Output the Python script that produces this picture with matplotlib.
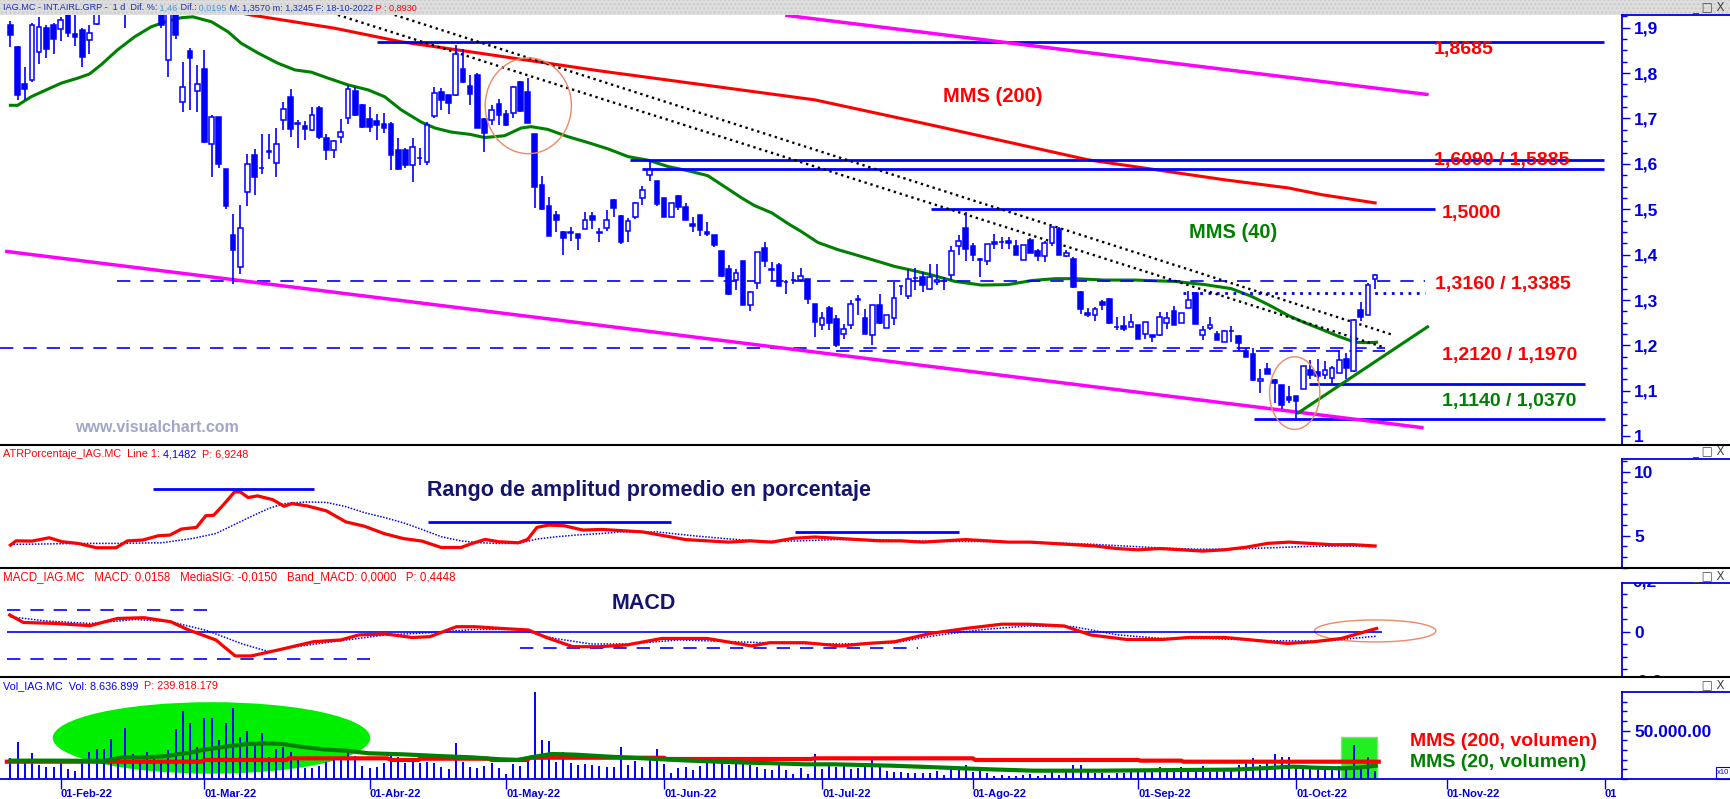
import numpy as np
import pandas as pd
import matplotlib
matplotlib.use('Agg')
import matplotlib.pyplot as plt
from matplotlib.patches import Rectangle, Ellipse
from matplotlib.lines import Line2D
from matplotlib.ticker import MultipleLocator, FixedLocator, FuncFormatter
from matplotlib.transforms import Bbox

plt.rcParams['font.family'] = ['Liberation Sans', 'DejaVu Sans']

# ---------------- datos ----------------
start_day = '2022-01-21'
holidays = ['2022-04-15', '2022-04-18']

opens = [1.906,1.857,1.776,1.784,1.847,1.899,1.907,1.897,1.935,1.886,
 1.896,1.872,1.908,1.940,1.965,1.975,1.955,1.935,1.970,1.960,
 1.945,1.950,1.828,1.950,1.737,1.849,1.761,1.809,1.644,1.703,
 1.589,1.444,1.373,1.538,1.620,1.590,1.626,1.602,1.696,1.747,
 1.688,1.684,1.674,1.723,1.657,1.631,1.659,1.701,1.761,1.729,
 1.699,1.695,1.688,1.688,1.631,1.631,1.597,1.613,1.604,1.706,
 1.758,1.751,1.751,1.809,1.772,1.796,1.699,1.697,1.731,1.710,
 1.712,1.781,1.759,1.665,1.554,1.508,1.488,1.449,1.448,1.446,
 1.457,1.486,1.448,1.459,1.520,1.486,1.453,1.484,1.525,1.575,
 1.563,1.525,1.483,1.530,1.506,1.468,1.488,1.450,1.444,1.409,
 1.369,1.344,1.387,1.288,1.338,1.415,1.369,1.378,1.339,1.345,
 1.345,1.347,1.292,1.245,1.283,1.259,1.226,1.245,1.303,1.261,
 1.223,1.289,1.239,1.261,1.330,1.308,1.349,1.351,1.325,1.339,
 1.341,1.356,1.420,1.459,1.420,1.390,1.387,1.428,1.427,1.429,
 1.420,1.388,1.433,1.409,1.396,1.426,1.457,1.398,1.390,1.317,
 1.272,1.266,1.295,1.303,1.240,1.242,1.241,1.244,1.226,1.222,
 1.222,1.250,1.275,1.250,1.283,1.316,1.222,1.239,1.226,1.208,
 1.231,1.220,1.188,1.182,1.122,1.149,1.123,1.112,1.087,1.089,
 1.103,1.146,1.142,1.134,1.129,1.140,1.171,1.144,1.279,1.268,
 1.347]
highs = [1.915,1.860,1.814,1.910,1.924,1.907,1.910,1.924,1.950,1.930,
 1.900,1.906,1.950,1.975,1.990,1.985,1.965,1.980,1.990,1.970,
 1.965,1.960,1.950,1.960,1.825,1.855,1.818,1.851,1.708,1.703,
 1.589,1.490,1.510,1.622,1.633,1.666,1.666,1.679,1.736,1.765,
 1.697,1.695,1.726,1.728,1.666,1.653,1.699,1.774,1.770,1.732,
 1.726,1.710,1.711,1.693,1.658,1.636,1.658,1.636,1.693,1.770,
 1.768,1.751,1.863,1.853,1.796,1.800,1.700,1.730,1.743,1.719,
 1.772,1.783,1.790,1.665,1.574,1.527,1.497,1.451,1.462,1.446,
 1.495,1.495,1.459,1.499,1.523,1.488,1.481,1.517,1.552,1.609,
 1.563,1.525,1.514,1.532,1.514,1.483,1.488,1.472,1.444,1.409,
 1.378,1.369,1.387,1.321,1.405,1.428,1.384,1.382,1.345,1.361,
 1.371,1.347,1.292,1.274,1.286,1.266,1.248,1.299,1.310,1.281,
 1.289,1.314,1.267,1.339,1.332,1.369,1.371,1.362,1.380,1.380,
 1.351,1.418,1.444,1.495,1.425,1.392,1.423,1.445,1.439,1.439,
 1.432,1.421,1.437,1.413,1.429,1.462,1.460,1.411,1.394,1.321,
 1.283,1.284,1.301,1.305,1.263,1.264,1.270,1.244,1.252,1.224,
 1.273,1.274,1.286,1.272,1.319,1.317,1.242,1.263,1.231,1.234,
 1.242,1.224,1.195,1.195,1.147,1.162,1.125,1.112,1.110,1.089,
 1.154,1.168,1.169,1.165,1.155,1.191,1.184,1.259,1.295,1.338,
 1.357]
lows = [1.858,1.740,1.740,1.780,1.820,1.833,1.842,1.871,1.880,1.860,
 1.813,1.842,1.905,1.935,1.945,1.945,1.900,1.930,1.950,1.935,
 1.935,1.900,1.791,1.875,1.715,1.718,1.715,1.647,1.572,1.591,
 1.500,1.335,1.358,1.507,1.532,1.578,1.611,1.572,1.675,1.660,
 1.636,1.653,1.672,1.655,1.608,1.614,1.647,1.688,1.706,1.680,
 1.671,1.652,1.668,1.586,1.587,1.592,1.561,1.598,1.597,1.702,
 1.719,1.710,1.750,1.778,1.730,1.680,1.627,1.686,1.686,1.684,
 1.700,1.714,1.690,1.503,1.498,1.440,1.449,1.399,1.431,1.410,
 1.457,1.457,1.427,1.451,1.484,1.424,1.427,1.479,1.510,1.563,
 1.508,1.483,1.483,1.499,1.476,1.449,1.440,1.440,1.417,1.351,
 1.312,1.322,1.289,1.275,1.325,1.373,1.341,1.331,1.314,1.336,
 1.340,1.292,1.218,1.234,1.234,1.197,1.215,1.237,1.267,1.226,
 1.201,1.248,1.239,1.245,1.310,1.303,1.322,1.317,1.323,1.333,
 1.323,1.345,1.400,1.387,1.387,1.350,1.378,1.413,1.413,1.413,
 1.399,1.388,1.404,1.385,1.383,1.420,1.400,1.395,1.327,1.270,
 1.262,1.253,1.278,1.248,1.234,1.231,1.241,1.215,1.215,1.207,
 1.220,1.237,1.245,1.250,1.283,1.248,1.212,1.234,1.212,1.207,
 1.208,1.188,1.175,1.122,1.096,1.138,1.074,1.061,1.074,1.037,
 1.103,1.127,1.122,1.125,1.116,1.140,1.127,1.141,1.253,1.268,
 1.3245]
closes = [1.884,1.751,1.766,1.906,1.901,1.853,1.875,1.918,1.888,1.880,
 1.836,1.889,1.940,1.965,1.975,1.955,1.935,1.970,1.960,1.945,
 1.955,1.906,1.940,1.883,1.769,1.833,1.775,1.649,1.703,1.600,
 1.507,1.410,1.459,1.600,1.572,1.591,1.628,1.644,1.721,1.677,
 1.689,1.677,1.708,1.660,1.630,1.651,1.670,1.765,1.707,1.682,
 1.682,1.685,1.680,1.619,1.589,1.597,1.637,1.614,1.686,1.756,
 1.740,1.734,1.842,1.781,1.753,1.680,1.669,1.719,1.708,1.686,
 1.770,1.717,1.691,1.548,1.500,1.442,1.476,1.437,1.449,1.437,
 1.477,1.476,1.449,1.477,1.503,1.428,1.475,1.514,1.543,1.587,
 1.512,1.484,1.514,1.504,1.476,1.464,1.454,1.446,1.422,1.353,
 1.314,1.360,1.289,1.317,1.405,1.386,1.366,1.331,1.339,1.345,
 1.352,1.303,1.251,1.261,1.250,1.201,1.237,1.292,1.300,1.226,
 1.289,1.250,1.267,1.305,1.330,1.347,1.349,1.333,1.351,1.344,
 1.341,1.409,1.429,1.413,1.399,1.388,1.423,1.423,1.427,1.426,
 1.399,1.421,1.404,1.396,1.426,1.460,1.400,1.404,1.328,1.281,
 1.266,1.281,1.289,1.250,1.241,1.237,1.252,1.215,1.252,1.218,
 1.262,1.261,1.246,1.272,1.300,1.248,1.234,1.245,1.213,1.231,
 1.232,1.206,1.175,1.124,1.127,1.138,1.118,1.069,1.080,1.078,
 1.154,1.134,1.133,1.145,1.151,1.167,1.151,1.256,1.262,1.333,
 1.3555]

# volumen diario (millones de acciones)
volumes = [22.0,38.6,18.6,27.0,14.5,12.8,12.0,18.0,10.7,8.6,
 20.7,27.6,31.0,30.7,41.7,23.1,53.1,25.9,17.3,28.3,
 20.7,18.0,30.0,51.8,70.4,57.6,33.5,62.8,62.8,40.4,
 57.6,73.0,43.8,49.7,35.2,48.0,23.1,30.7,33.5,28.3,
 19.7,11.0,11.0,13.5,18.0,19.7,22.0,26.6,23.8,13.5,
 11.4,12.0,16.2,28.3,23.1,17.0,19.7,17.0,18.0,16.2,
 12.8,10.0,37.6,18.0,12.0,11.7,13.5,17.0,11.0,5.2,
 15.5,13.5,19.7,90.0,40.4,39.3,18.0,28.3,16.2,14.5,
 15.2,14.5,13.5,12.8,12.8,33.5,14.5,18.6,12.0,19.7,
 31.0,15.5,5.9,11.0,12.8,9.3,13.5,17.0,20.4,18.0,
 14.5,17.0,18.0,14.5,12.0,10.0,9.3,14.5,9.3,4.8,
 11.0,4.8,25.9,10.0,13.5,12.0,13.5,10.0,11.0,12.0,
 19.7,13.5,8.6,7.6,7.6,6.6,6.6,6.6,5.9,8.6,
 4.1,11.0,11.0,14.5,7.6,8.6,5.9,3.5,4.1,3.5,
 3.1,4.1,5.2,3.1,4.1,7.6,4.1,7.6,14.5,14.5,
 7.6,5.9,6.6,4.1,5.9,6.6,7.6,9.3,7.6,10.0,
 12.0,9.3,7.6,12.0,11.0,7.6,13.5,7.6,8.6,9.3,
 11.0,14.5,19.7,21.4,14.5,18.0,25.9,23.1,23.1,13.5,
 12.0,12.0,10.0,11.0,11.0,13.5,12.0,35.2,12.0,23.1,
 8.6]

# medias móviles (índice de sesión, valor)
mms40 = [(0,1.729),(1,1.729),(2.9,1.748),(4.7,1.761),(7.1,1.778),(9.4,1.789),(11,1.798),
 (12.6,1.818),(14.9,1.851),(17.3,1.88),(19.6,1.902),(21.9,1.915),(23.8,1.922),(25.4,1.924),
 (28,1.913),(30.3,1.891),(32.1,1.866),(34.5,1.844),(37.2,1.822),(39.6,1.807),(41.9,1.802),
 (44.2,1.789),(47,1.774),(49.8,1.763),(52.1,1.748),(54.4,1.719),(57.2,1.692),(59.1,1.679),
 (61.4,1.67),(64,1.665),(66,1.658),(68.8,1.662),(71.1,1.679),(72.5,1.682),(74.8,1.676),
 (77.6,1.66),(80.4,1.647),(83.2,1.633),(86,1.616),(88.8,1.608),(91.6,1.594),(94.3,1.585),
 (97.1,1.574),(99.4,1.55),(101.8,1.525),(103.6,1.508),(106,1.492),(108.3,1.468),(110.1,1.451),
 (112.4,1.427),(115.2,1.411),(117.6,1.4),(120.8,1.385),(123.1,1.374),(125.4,1.366),(128.1,1.356),
 (131.5,1.341),(135.2,1.333),(138.9,1.334),(142.2,1.343),(145.4,1.347),(148.2,1.347),
 (152.4,1.344),(156.6,1.344),(162.1,1.341),(166.3,1.334),(170,1.325),(172.8,1.308),
 (175.6,1.286),(177.9,1.266),(180.2,1.25),(182.6,1.235),(184.9,1.22),(187.2,1.207),
 (189.1,1.206),(190.2,1.207)]
mms200 = [(31,1.936),(33.5,1.928),(45.1,1.899),(54.4,1.869),(64,1.847),(82,1.805),(112,1.741),
 (128.1,1.686),(150,1.609),(169,1.565),(177.9,1.547),(182.6,1.532),(190,1.514)]

# niveles horizontales: (nivel, desde, hasta)
solid_levels = [(1.8685, 51, 221.8), (1.6090, 86.3, 221.8), (1.5885, 88, 221.8),
                (1.5000, 128.2, 198.4), (1.1140, 180.8, 219.2), (1.0370, 173.1, 222)]
dashed_levels = [(1.342, 14.9, 197), (1.195, -1.5, 191.4), (1.188, 115, 191.4)]
dotted_level = (1.3160, 163.3, 196.9)
channel_upper = [(108.1, 1.927), (197.2, 1.753)]
channel_lower = [(-0.5, 1.407), (196.5, 1.019)]
trend_black_1 = [(45.6, 1.928), (191.4, 1.195)]
trend_black_2 = [(53.5, 1.928), (192.3, 1.224)]
trend_green = [(179.3, 1.0515), (197.3, 1.241)]

level_labels = [('1,8685', 198.2, 1.852, 'red'), ('1,6090 / 1,5885', 198.2, 1.6067, 'red'),
                ('1,5000', 199.3, 1.490, 'red'), ('1,3160 / 1,3385', 198.3, 1.334, 'red'),
                ('1,2120 / 1,1970', 199.3, 1.178, 'red'), ('1,1140 / 1,0370', 199.3, 1.077, 'green')]

# ATR % y su media
atr = [(0,4.27),(0.8,4.6),(3,4.58),(5.4,4.84),(7.2,4.53),(9.4,4.4),(12,4.06),(14.7,4.06),
 (16.3,4.6),(18.4,4.66),(20.6,5.0),(22.2,5.05),(23.8,5.52),(25.9,5.65),(27.2,6.56),(28.3,6.6),
 (29.6,7.38),(31.2,8.42),(32,8.42),(33.1,7.98),(34.4,8.11),(36.5,7.82),(38.1,7.3),(39.2,7.51),
 (41.3,7.33),(44,6.94),(46.7,6.08),(49.3,5.74),(52,5.17),(54.7,4.78),(57.3,4.58),(60,4.08),
 (62.7,4.08),(64.3,4.4),(66.1,4.71),(68,4.53),(70.7,4.45),(72,4.71),(73.3,5.65),(74.9,5.83),
 (77.1,5.78),(79.7,5.44),(82.3,5.49),(85,5.4),(88,5.3),(91,5.0),(94,4.7),(97,4.6),(100,4.5),
 (103,4.6),(106,4.5),(109,4.8),(112,4.9),(115,4.8),(118,4.7),(121,4.6),(124,4.6),(127,4.5),
 (130,4.6),(133,4.7),(136,4.6),(139,4.5),(142,4.5),(145,4.4),(148,4.3),(151,4.2),(154,4.0),
 (157,3.9),(160,4.0),(163,3.9),(166,3.8),(169,3.9),(172,4.1),(175,4.4),(178,4.5),(181,4.4),
 (184,4.3),(187,4.3),(190,4.2)]
atr_signal = [(0,4.32),(4,4.35),(9.4,4.4),(14.7,4.4),(21.1,4.45),(25.4,4.79),(28.6,5.17),
 (30.7,5.74),(33.4,6.47),(36,7.14),(38.1,7.51),(41.3,7.64),(44,7.6),(46.7,7.27),(49.3,6.8),
 (52,6.43),(54.7,6.01),(57.3,5.49),(60,4.92),(62.7,4.6),(65.3,4.45),(68,4.4),(70.7,4.4),
 (73.3,4.74),(76,4.92),(78.7,5.05),(82.3,5.17),(85,5.3),(90,5.3),(95,5.0),(100,4.75),
 (105,4.55),(110,4.6),(115,4.7),(120,4.7),(125,4.6),(130,4.55),(135,4.55),(140,4.5),
 (145,4.45),(150,4.35),(155,4.2),(160,4.05),(165,3.95),(170,3.95),(175,4.05),(180,4.15),
 (185,4.2),(190,4.15)]
atr_levels = [(8.66, 19.9, 42.2), (6.05, 58.2, 92), (5.3, 109.3, 132.1)]

# MACD y señal
macd = [(-0.1,0.067),(1.8,0.037),(6.2,0.033),(11.1,0.024),(14.9,0.053),(18.6,0.056),
 (22.3,0.04),(24.8,0.007),(28.6,-0.033),(31.3,-0.097),(33.5,-0.097),(37.3,-0.073),
 (42.2,-0.04),(46,-0.033),(48.5,-0.013),(52.2,-0.009),(55.9,-0.023),(58.4,-0.02),
 (62.1,0.02),(64.6,0.02),(68.4,0.013),(72.1,0.007),(74.6,-0.023),(78.3,-0.06),(82,-0.06),
 (85.8,-0.053),(90.7,-0.027),(97,-0.027),(103.2,-0.057),(105.7,-0.044),(110.6,-0.044),
 (115.6,-0.057),(119.3,-0.047),(123.1,-0.04),(128.1,-0.007),(133,0.013),(138,0.03),
 (141.7,0.03),(146.7,0.023),(150.4,-0.013),(155.4,-0.031),(160.4,-0.031),(164.1,-0.023),
 (169.1,-0.023),(172.8,-0.033),(177.8,-0.047),(181.5,-0.04),(185.3,-0.027),(190.2,0.013)]
macd_signal = [(-0.1,0.06),(4.9,0.043),(11.1,0.033),(17.4,0.049),(22.3,0.04),(27.3,0.005),
 (32.3,-0.049),(36,-0.08),(39.7,-0.06),(46,-0.036),(52.2,-0.013),(58.4,-0.004),(64.6,0.009),
 (70.8,0.009),(75.8,-0.027),(80.8,-0.049),(85.8,-0.049),(93.2,-0.033),(100.7,-0.04),
 (108.2,-0.047),(115.6,-0.049),(123.1,-0.044),(129.3,-0.013),(135.5,0.009),(141.7,0.023),
 (148,0.02),(154.2,-0.013),(160.4,-0.027),(166.6,-0.027),(175.3,-0.036),(182.8,-0.038),
 (190.2,-0.018)]
macd_levels = [(0.087, -0.5, 28), (-0.11, -0.5, 50), (-0.066, 71, 126.3)]

# medias del volumen (millones)
vol_mms200 = [(-0.5,17.9),(26.5,17.9),(27,19.7),(38.5,19.7),(38.7,21.4),(52.5,21.4),(53,19.7),
 (56.8,19.7),(57,21.0),(66.5,21.0),(67,19.7),(72,19.7),(72.3,22.0),(91,22.0),(91.3,20.7),
 (111.5,20.7),(112,21.4),(134,21.4),(134.3,19.7),(157,19.7),(157.3,19.0),(163,19.0),
 (163.3,17.9),(190.5,17.9)]
vol_mms20 = [(0,19.0),(6.7,19.0),(13.1,18.7),(15.5,22.4),(18.7,22.4),(21.9,23.8),(23.5,25.9),
 (25.1,27.3),(26.7,30.0),(28.3,31.7),(30.7,34.2),(33.1,36.2),(35.5,36.9),(37.9,36.2),
 (40.3,33.5),(43.5,30.7),(46.7,29.3),(49.9,26.6),(54.7,25.5),(59.5,23.8),(64.2,22.4),
 (68.2,20.4),(70.6,19.7),(73,23.1),(75.4,25.9),(78.6,25.2),(83.4,23.1),(86.6,22.0),
 (90.6,20.4),(94.6,19.0),(98.6,17.9),(102.6,16.9),(106.6,16.2),(110.6,15.2),(114.6,15.2),
 (118.6,14.5),(122.6,13.8),(128.8,12.1),(132.6,11.0),(136.4,10.0),(142.4,8.6),(151.5,8.6),
 (162.8,9.3),(170.3,9.7),(174.1,11.0),(178.6,12.8),(181.6,11.7),(185.4,11.0),(187.7,11.7),
 (190.1,13.8)]

meses = {1: 'Ene', 2: 'Feb', 3: 'Mar', 4: 'Abr', 5: 'May', 6: 'Jun', 7: 'Jul',
         8: 'Ago', 9: 'Sep', 10: 'Oct', 11: 'Nov', 12: 'Dic'}

# ---------------- figura ----------------
W, H = 1730, 799
AX_R = 1621.5
BLUE = '#0000ff'
AXB = '#0000dd'
RED = '#ff0000'
GREEN = '#008000'
MAG = '#ff00ff'
NAVY = '#14146e'
SALMON = '#ee8866'

fig = plt.figure(figsize=(W / 100, H / 100), dpi=100)
fig.patch.set_facecolor('white')


def add_panel(top, bot, sharex=None):
    return fig.add_axes([0, 1 - bot / H, AX_R / W, (bot - top) / H], sharex=sharex)


ax = add_panel(15, 444.5)
ax_a = add_panel(459, 568, ax)
ax_m = add_panel(583.3, 677, ax)
ax_v = add_panel(692.3, 779, ax)

days = pd.bdate_range(start_day, '2022-12-30')
days = days[~days.isin(pd.to_datetime(holidays))]
n = len(closes)
x = np.arange(n)


def xy(pairs):
    a = np.array(pairs)
    return a[:, 0], a[:, 1]


for a in (ax, ax_a, ax_m, ax_v):
    a.set_facecolor('white')
    for s in ('left', 'top', 'bottom'):
        a.spines[s].set_visible(False)
    a.spines['right'].set_color(AXB)
    a.spines['right'].set_linewidth(1.3)
    a.yaxis.tick_right()
    a.tick_params(axis='y', which='major', direction='out', length=6, width=1, color=AXB,
                  labelcolor=AXB, labelsize=12.5, pad=3)
    a.tick_params(axis='y', which='minor', direction='out', length=3.5, width=1, color=AXB)
    a.tick_params(axis='x', which='both', bottom=False, labelbottom=False)
    a.set_xlim(-1.45, 224.3)

# ---- panel principal ----
ax.set_ylim(0.9817, 1.928)
ax.yaxis.set_major_locator(MultipleLocator(0.1))
ax.yaxis.set_minor_locator(MultipleLocator(0.025))
ax.yaxis.set_major_formatter(FuncFormatter(
    lambda v, p: '1' if abs(v - 1) < 1e-6 else f'{v:.1f}'.replace('.', ',')))

mx, my = xy(mms200)
ax.plot(mx, my, color=RED, lw=2.2, zorder=2)
mx, my = xy(mms40)
ax.plot(mx, my, color=GREEN, lw=2.2, zorder=2)

for (lv, a0, a1) in solid_levels:
    ax.hlines(lv, a0, a1, color=BLUE, lw=2, zorder=3)
for (lv, a0, a1) in dashed_levels:
    ax.hlines(lv, a0, a1, color=BLUE, lw=1.2, linestyles=(0, (8, 6)), zorder=3)
ax.hlines(dotted_level[0], dotted_level[1], dotted_level[2], color=BLUE, lw=2,
          linestyles=(0, (1, 2)), zorder=3)

for seg, col, lw, ls in [(channel_upper, MAG, 2.5, '-'), (channel_lower, MAG, 2.5, '-'),
                         (trend_black_1, 'black', 1.7, (0, (1, 1.6))),
                         (trend_black_2, 'black', 1.7, (0, (1, 1.6))),
                         (trend_green, GREEN, 2.2, '-')]:
    sx, sy = xy(seg)
    ax.plot(sx, sy, color=col, lw=lw, linestyle=ls, zorder=4)

o = np.array(opens); c = np.array(closes); hi = np.array(highs); lo = np.array(lows)
up = c >= o
ax.vlines(x, lo, hi, color=BLUE, lw=1.2, zorder=5)
ax.bar(x, np.abs(c - o), bottom=np.minimum(o, c), width=0.65,
       color=np.where(up, 'white', BLUE), edgecolor=BLUE, linewidth=1.1, zorder=6)

ax.add_patch(Ellipse((72.1, 1.728), 12, 0.211, fill=False, ec=SALMON, lw=1, zorder=7))
ax.add_patch(Ellipse((178.8, 1.095), 7, 0.16, fill=False, ec=SALMON, lw=1, zorder=7))

for txt, lx, ly, col in level_labels:
    ax.text(lx, ly, txt, color=RED if col == 'red' else GREEN, fontsize=14,
            fontweight='bold', va='center', ha='left', zorder=8)
ax.text(129.8, 1.7476, 'MMS (200)', color=RED, fontsize=14.5, fontweight='bold',
        va='center', ha='left')
ax.text(164.1, 1.448, 'MMS (40)', color=GREEN, fontsize=14.5, fontweight='bold',
        va='center', ha='left')
ax.text(9.0, 1.019, 'www.visualchart.com', color='#a0a6c8', fontsize=11.5,
        fontweight='bold', va='center', ha='left')

# ---- ATR ----
ax_a.set_ylim(2.48, 10.99)
ax_a.yaxis.set_major_locator(FixedLocator([5, 10]))
ax_a.yaxis.set_minor_locator(MultipleLocator(5 / 6))
ax_a.yaxis.set_major_formatter(FuncFormatter(lambda v, p: f'{v:g}'))
sx, sy = xy(atr_signal)
ax_a.plot(sx, sy, color=BLUE, lw=1.1, linestyle=(0, (1, 1)))
sx, sy = xy(atr)
ax_a.plot(sx, sy, color=RED, lw=2.3)
for (lv, a0, a1) in atr_levels:
    ax_a.hlines(lv, a0, a1, color=BLUE, lw=2)
ax_a.text(58.0, 8.5, 'Rango de amplitud promedio en porcentaje', color=NAVY,
          fontsize=15.5, fontweight='bold', va='center', ha='left')

# ---- MACD ----
ax_m.set_ylim(-0.1812, 0.1936)
ax_m.yaxis.set_major_locator(FixedLocator([0]))
ax_m.yaxis.set_minor_locator(MultipleLocator(0.05))
ax_m.yaxis.set_major_formatter(FuncFormatter(lambda v, p: '0'))
ax_m.hlines(0, -0.5, 191, color=BLUE, lw=1.2)
for (lv, a0, a1) in macd_levels:
    ax_m.hlines(lv, a0, a1, color=BLUE, lw=1.2, linestyles=(0, (8, 6)))
sx, sy = xy(macd_signal)
ax_m.plot(sx, sy, color=BLUE, lw=1.1, linestyle=(0, (1, 1)))
sx, sy = xy(macd)
ax_m.plot(sx, sy, color=RED, lw=2.3)
ax_m.add_patch(Ellipse((190, 0.003), 16.9, 0.088, fill=False, ec=SALMON, lw=1))
ax_m.text(83.7, 0.113, 'MACD', color=NAVY, fontsize=15.5, fontweight='bold',
          va='center', ha='left')

# ---- Volumen ----
ax_v.set_ylim(0, 89.7)
ax_v.yaxis.set_major_locator(FixedLocator([50]))
ax_v.yaxis.set_minor_locator(MultipleLocator(10))
ax_v.yaxis.set_major_formatter(FuncFormatter(
    lambda v, p: f'{int(round(v * 1000)):,}'.replace(',', '.') + '.00'))
ax_v.add_patch(Ellipse((28, 42.5), 44.2, 74, fc='#00ee00', ec='none', zorder=1,
                       clip_on=False))
ax_v.add_patch(Rectangle((185.3, 0), 4.9, 43.15, fc='#22ee22', ec='#88dd88', lw=1, zorder=1))
ax_v.vlines(x, 0, volumes, color=BLUE, lw=1.4, zorder=2)
sx, sy = xy(vol_mms200)
ax_v.plot(sx, sy, color=RED, lw=3, zorder=3)
sx, sy = xy(vol_mms20)
ax_v.plot(sx, sy, color=GREEN, lw=3, zorder=3)
ax_v.text(194.8, 38.9, 'MMS (200, volumen)', color=RED, fontsize=14, fontweight='bold',
          va='center', ha='left')
ax_v.text(194.8, 17.2, 'MMS (20, volumen)', color=GREEN, fontsize=14, fontweight='bold',
          va='center', ha='left')

# eje de fechas
tick_pos, tick_lab = [], []
for m in range(2, 13):
    first = days[days.month == m][0]
    tick_pos.append(days.get_loc(first))
    tick_lab.append(f'01-{meses[m]}-22')
ax_v.spines['bottom'].set_visible(True)
ax_v.spines['bottom'].set_color(AXB)
ax_v.spines['bottom'].set_linewidth(1.3)
ax_v.tick_params(axis='x', which='major', bottom=True, labelbottom=True, direction='out',
                 length=7, width=1, color=AXB, labelcolor=AXB, labelsize=8, pad=0)
ax_v.set_xticks(tick_pos)
ax_v.set_xticklabels(tick_lab, fontweight='bold', ha='left')
clip_right = Bbox.from_extents(0, 0, AX_R - 6, H)
for lbl in ax_v.get_xticklabels():
    lbl.set_clip_box(clip_right)
    lbl.set_clip_on(True)

for a in (ax, ax_a, ax_m, ax_v):
    for lbl in a.get_yticklabels():
        lbl.set_fontweight('bold')

# etiquetas de MACD cortadas por el borde del panel
band = Bbox.from_extents(AX_R, H - 677, W, H - 583.3)
for val, txt in [(0.2, '0,2'), (-0.2, '-0,2')]:
    t = ax_m.text(1.007, val, txt, transform=ax_m.get_yaxis_transform(), color=AXB,
                  fontsize=12.5, fontweight='bold', va='center', ha='left')
    t.set_clip_box(band)
    t.set_clip_on(True)

# ---------------- marco / cabeceras ----------------
fig.add_artist(Rectangle((0, 1 - 15 / H), 1, 15 / H, transform=fig.transFigure,
                         fc='#dedede', ec='#cbcbcb', lw=0, hatch='....', zorder=0))
for yp in (444.5, 568, 677):
    fig.add_artist(Line2D([0, 1], [1 - yp / H] * 2, color='black', lw=1.5))
for yp in (15, 459, 583.3, 692.3, 779):
    fig.add_artist(Line2D([AX_R / W, 1], [1 - yp / H] * 2, color=AXB, lw=1.3))
for yp in (7, 451, 576, 685):
    fig.text(1692 / W, 1 - yp / H, '_ □ X', color='#444444', fontsize=8.5,
             va='center', ha='left', family=['DejaVu Sans'])
fig.add_artist(Rectangle((1716 / W, 1 - 779 / H), 14 / W, 12 / H, transform=fig.transFigure,
                         fc='white', ec=AXB, lw=0.8))
fig.text(1723 / W, 1 - 773 / H, 'x10', color=AXB, fontsize=5.5, va='center', ha='center')

renderer = fig.canvas.get_renderer()


def header(x0, yp, parts, size=7.8):
    xc = x0
    for s, col in parts:
        t = fig.text(xc / W, 1 - yp / H, s, color=col, fontsize=size, va='center', ha='left')
        xc = t.get_window_extent(renderer=renderer).x1


HB = '#1c2fb8'
LB = '#3c9ae0'
header(3, 8, [('IAG.MC - INT.AIRL.GRP -  1 d  Dif. %:', HB), (' 1,46', LB), (' Dif.:', HB),
              (' 0,0195', LB), (' M: 1,3570 m: 1,3245 F: 18-10-2022', HB),
              (' P : 0,8930', RED)], size=6.6)
header(3, 454, [('ATRPorcentaje_IAG.MC  Line 1:', RED), (' 4,1482', BLUE),
                ('  P: 6,9248', RED)])
header(3, 577, [('MACD_IAG.MC   MACD: 0,0158   MediaSIG: -0,0150   Band_MACD: 0,0000', RED),
                ('   P: 0,4448', RED)], size=8.3)
header(3, 686, [('Vol_IAG.MC  Vol: 8.636.899', BLUE), ('  P: 239.818.179', RED)])

fig.savefig('out.png', dpi=100)
